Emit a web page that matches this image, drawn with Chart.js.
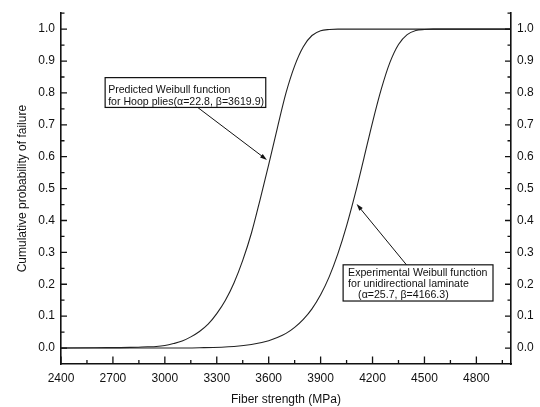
<!DOCTYPE html>
<html>
<head>
<meta charset="utf-8">
<title>Weibull functions</title>
<script src="https://cdn.jsdelivr.net/npm/chart.js@4.4.0/dist/chart.umd.min.js"></script>
<style>
  body { margin: 0; background: #fff; }
  #wrap { width: 540px; height: 407px; }
</style>
</head>
<body>
<div id="wrap"><canvas id="weibullChart" width="540" height="407"></canvas></div>
<script>
// values
const strengthPredicted = [2400, 2600, 2800, 2900, 2950, 3000, 3050, 3100, 3150, 3200, 3250, 3300, 3350, 3400, 3450, 3500,
  3550, 3600, 3650, 3700, 3750, 3800, 3850, 3900, 3950, 4000, 4200, 5000];
const probPredicted = [0, 0.001, 0.002, 0.004, 0.005, 0.008, 0.014, 0.022, 0.035, 0.052, 0.075, 0.108, 0.150, 0.205, 0.275, 0.360,
  0.465, 0.575, 0.690, 0.800, 0.885, 0.945, 0.980, 0.995, 0.999, 1.000, 1.000, 1.000];

const strengthExperimental = [2400, 3000, 3200, 3400, 3500, 3600, 3650, 3700, 3750, 3800, 3850, 3900, 3950, 4000, 4050, 4100,
  4150, 4200, 4250, 4300, 4350, 4400, 4450, 4500, 4550, 5000];
const probExperimental = [0, 0, 0.001, 0.005, 0.011, 0.023, 0.033, 0.046, 0.065, 0.090, 0.123, 0.167, 0.224, 0.296, 0.383, 0.484,
  0.595, 0.708, 0.811, 0.895, 0.952, 0.983, 0.996, 0.999, 1.000, 1.000];

const xTicks = [2400, 2700, 3000, 3300, 3600, 3900, 4200, 4500, 4800];
const yTicks = [0, 0.1, 0.2, 0.3, 0.4, 0.5, 0.6, 0.7, 0.8, 0.9, 1.0];

const fontFamily = "'Liberation Sans', Arial, Helvetica, sans-serif";
const ink = '#111';

function toPoints(xs, ys) {
  return xs.map((v, i) => ({ x: v, y: ys[i] }));
}

// callout boxes with arrows, anchored in data units
const notes = [
  {
    lines: ['Predicted Weibull function', 'for Hoop plies(\u03b1=22.8, \u03b2=3619.9)'],
    box: [2655, 0.848, 3583, 0.7545],
    textLeft: [3, 3], firstLine: 12, lineGap: 12,
    arrow: [3192, 0.7536, 3590, 0.59]
  },
  {
    lines: ['Experimental Weibull function', 'for unidirectional laminate', '(\u03b1=25.7, \u03b2=4166.3)'],
    box: [4030, 0.261, 4896, 0.1475],
    textLeft: [5, 5, 15], firstLine: 8.7, lineGap: 10.7,
    arrow: [4396, 0.261, 4108, 0.4515]
  }
];

const axisTicks = {
  id: 'axisTicks',
  afterDraw(chart) {
    const { ctx, chartArea: a, scales: { x, y } } = chart;
    ctx.save();
    ctx.strokeStyle = ink;
    ctx.lineWidth = 1.3;
    ctx.beginPath();
    xTicks.forEach(v => {
      const px = x.getPixelForValue(v);
      ctx.moveTo(px, a.bottom);
      ctx.lineTo(px, a.bottom - 7.5);
      const mx = x.getPixelForValue(v + 150);
      ctx.moveTo(mx, a.bottom);
      ctx.lineTo(mx, a.bottom - 4);
    });
    yTicks.forEach(v => {
      const py = y.getPixelForValue(v);
      ctx.moveTo(a.left, py); ctx.lineTo(a.left + 6, py);
      ctx.moveTo(a.right, py); ctx.lineTo(a.right - 6, py);
      const my = y.getPixelForValue(v + 0.05);
      ctx.moveTo(a.left, my); ctx.lineTo(a.left + 3.5, my);
      ctx.moveTo(a.right, my); ctx.lineTo(a.right - 3.5, my);
    });
    ctx.stroke();
    ctx.restore();
  }
};

const callouts = {
  id: 'callouts',
  afterDraw(chart) {
    const { ctx, scales: { x, y } } = chart;
    ctx.save();
    notes.forEach(n => {
      const l = x.getPixelForValue(n.box[0]), t = y.getPixelForValue(n.box[1]);
      const r = x.getPixelForValue(n.box[2]), b = y.getPixelForValue(n.box[3]);
      ctx.fillStyle = '#fff';
      ctx.fillRect(l, t, r - l, b - t);
      ctx.strokeStyle = ink;
      ctx.lineWidth = 1.2;
      ctx.strokeRect(l, t, r - l, b - t);
      ctx.fillStyle = ink;
      ctx.font = '10.6px ' + fontFamily;
      ctx.textBaseline = 'middle';
      ctx.textAlign = 'left';
      n.lines.forEach((s, i) => {
        ctx.fillText(s, l + n.textLeft[i], t + n.firstLine + i * n.lineGap);
      });

      // arrow
      const x0 = x.getPixelForValue(n.arrow[0]), y0 = y.getPixelForValue(n.arrow[1]);
      const x1 = x.getPixelForValue(n.arrow[2]), y1 = y.getPixelForValue(n.arrow[3]);
      const ang = Math.atan2(y1 - y0, x1 - x0);
      ctx.lineWidth = 1;
      ctx.beginPath();
      ctx.moveTo(x0, y0);
      ctx.lineTo(x1 - 5 * Math.cos(ang), y1 - 5 * Math.sin(ang));
      ctx.stroke();
      ctx.beginPath();
      ctx.moveTo(x1, y1);
      ctx.lineTo(x1 - 7 * Math.cos(ang) + 2.2 * Math.sin(ang), y1 - 7 * Math.sin(ang) - 2.2 * Math.cos(ang));
      ctx.lineTo(x1 - 7 * Math.cos(ang) - 2.2 * Math.sin(ang), y1 - 7 * Math.sin(ang) + 2.2 * Math.cos(ang));
      ctx.closePath();
      ctx.fill();
    });
    ctx.restore();
  }
};

const tickFont = { family: fontFamily, size: 12 };

function yAxis(position, width, withTitle) {
  return {
    type: 'linear',
    position: position,
    min: -0.05,
    max: 1.05,
    afterBuildTicks: s => { s.ticks = yTicks.map(v => ({ value: v })); },
    afterFit: s => { s.width = width; },
    grid: { display: false, drawTicks: false },
    border: { display: true, color: ink, width: 1.6 },
    ticks: { color: ink, font: tickFont, padding: 6, callback: v => Number(v).toFixed(1) },
    title: {
      display: withTitle,
      text: 'Cumulative probability of failure',
      color: ink,
      font: { family: fontFamily, size: 12 },
      padding: { top: 15, bottom: 0 }
    }
  };
}

const ctx = document.getElementById('weibullChart').getContext('2d');
const weibullChart = new Chart(ctx, {
  type: 'scatter',
  data: {
    datasets: [{
      label: 'Predicted',
      data: toPoints(strengthPredicted, probPredicted),
      showLine: true,
      borderColor: '#222',
      borderWidth: 1.1,
      pointRadius: 0,
      cubicInterpolationMode: 'monotone',
      yAxisID: 'y'
    }, {
      label: 'Experimental',
      data: toPoints(strengthExperimental, probExperimental),
      showLine: true,
      borderColor: '#222',
      borderWidth: 1.1,
      pointRadius: 0,
      cubicInterpolationMode: 'monotone',
      yAxisID: 'y'
    }]
  },
  options: {
    responsive: false,
    animation: false,
    devicePixelRatio: 1,
    layout: { padding: { top: 8, left: 0, right: 0, bottom: 0 } },
    plugins: {
      legend: { display: false },
      tooltip: { enabled: false }
    },
    scales: {
      x: {
        type: 'linear',
        min: 2400,
        max: 5000,
        afterBuildTicks: s => { s.ticks = xTicks.map(v => ({ value: v })); },
        afterFit: s => { s.height = 43; },
        grid: { display: false, drawTicks: false },
        border: { display: true, color: ink, width: 1.6 },
        ticks: { color: ink, font: tickFont, padding: 7, maxRotation: 0, autoSkip: false, callback: v => String(v) },
        title: {
          display: true,
          text: 'Fiber strength (MPa)',
          color: ink,
          font: { family: fontFamily, size: 12 },
          padding: { top: 0, bottom: 0 }
        }
      },
      y: yAxis('left', 61, true),
      y2: yAxis('right', 29, false)
    }
  },
  plugins: [axisTicks, callouts]
});
</script>
</body>
</html>
